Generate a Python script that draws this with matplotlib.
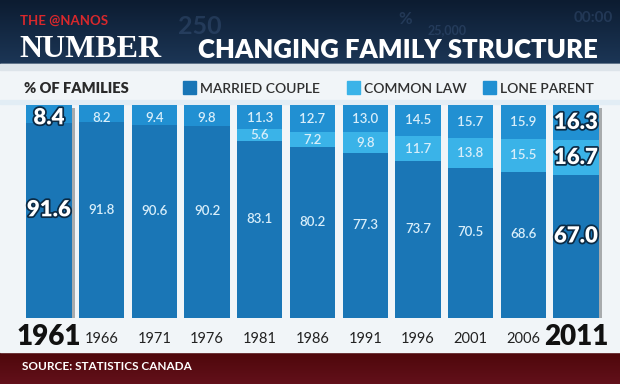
import numpy as np
import matplotlib.pyplot as plt
import matplotlib.patheffects as pe
from matplotlib.colors import LinearSegmentedColormap
from matplotlib.transforms import blended_transform_factory

# Data
years = ['1961', '1966', '1971', '1976', '1981', '1986', '1991', '1996', '2001', '2006', '2011']
married = [91.6, 91.8, 90.6, 90.2, 83.1, 80.2, 77.3, 73.7, 70.5, 68.6, 67.0]
common_law = [0, 0, 0, 0, 5.6, 7.2, 9.8, 11.7, 13.8, 15.5, 16.7]
lone_parent = [8.4, 8.2, 9.4, 9.8, 11.3, 12.7, 13.0, 14.5, 15.7, 15.9, 16.3]
series_names = ['MARRIED COUPLE', 'COMMON LAW', 'LONE PARENT']

c_married = '#1a76b6'
c_common = '#3ab3e8'
c_lone = '#2190d2'

plt.rcParams['font.family'] = ['Lato', 'DejaVu Sans']

W, H = 620, 384
fig = plt.figure(figsize=(W / 100, H / 100), dpi=100)

def fy(px):
    return 1 - px / H

# background: header, white body, footer
bg = fig.add_axes([0, 0, 1, 1])
bg.set_xlim(0, W)
bg.set_ylim(H, 0)
bg.axis('off')
grad = np.linspace(0, 1, 64)[:, None] * np.ones((1, 2))
bg.imshow(grad, extent=[0, W, 64, 0], aspect='auto',
          cmap=LinearSegmentedColormap.from_list('h', ['#0c1c31', '#1c3656']))
bg.add_patch(plt.Rectangle((0, 64), W, 288, color='#f1f5f8'))
bg.add_patch(plt.Rectangle((0, 64), W, 6, color='#dde4ea'))
bg.add_patch(plt.Rectangle((0, 100), W, 4, color='#e2edf5'))
fgrad = np.linspace(0, 1, 32)[:, None] * np.ones((1, 2))
bg.imshow(fgrad, extent=[0, W, 384, 352], aspect='auto',
          cmap=LinearSegmentedColormap.from_list('f', ['#4e070b', '#62101a']))
for tx, x, y, s in [('250', 178, 34, 18), ('%', 398, 24, 12), ('25,000', 428, 34, 9),
                    ('00:00', 574, 22, 11)]:
    bg.text(x, y, tx, color='#5b7bab', alpha=0.25, fontsize=s, weight='bold')
bg.text(20, 25, 'THE @NANOS', color='#d8282c', fontsize=9.5, weight='bold')
bg.text(19, 57, 'NUMBER', color='white', fontsize=23, weight='bold', family='Liberation Serif')
bg.text(198, 58, 'CHANGING FAMILY STRUCTURE', color='white', fontsize=18.5, weight='heavy')
bg.text(24, 93, '% OF FAMILIES', color='#2a2a2a', fontsize=10.5, weight='heavy')
for name, col, x in zip(series_names, [c_married, c_common, c_lone], [183, 347, 483]):
    bg.add_patch(plt.Rectangle((x, 81), 13, 13, color=col))
    bg.text(x + 17, 93, name, color='#303030', fontsize=10, weight='semibold')
bg.text(22, 366, 'SOURCE: STATISTICS CANADA', color='white', fontsize=8.5, weight='bold', va='center')

# bar axes
ax = fig.add_axes([20 / W, fy(318), 585 / W, (318 - 105) / H])
ax.set_xlim(-0.55, 10.55)
ax.set_ylim(0, 100)
ax.axis('off')
x = np.arange(len(years))
width = 0.86
big = [0, len(years) - 1]

for i in big:
    ax.bar(x[i] + 0.06, 100, width, bottom=-1.5, color='#000000', alpha=0.3, zorder=1)
ax.bar(x, married, width, color=c_married, zorder=2)
ax.bar(x, common_law, width, bottom=married, color=c_common, zorder=2)
bottom2 = np.array(married) + np.array(common_law)
ax.bar(x, lone_parent, width, bottom=bottom2, color=c_lone, zorder=2)

stroke = [pe.withStroke(linewidth=2.5, foreground='#0b2a44')]
for i in range(len(years)):
    if i in big:
        kw = dict(fontsize=16, weight='heavy', color='white', path_effects=stroke)
    else:
        kw = dict(fontsize=9.5, color='#d8eefa', weight='semibold')
    ax.text(x[i], married[i] / 2 + 5, f'{married[i]:.1f}', ha='center', va='center', zorder=3, **kw)
    if common_law[i] > 0:
        ax.text(x[i], married[i] + common_law[i] / 2, f'{common_law[i]:.1f}',
                ha='center', va='center', zorder=3, **kw)
    ax.text(x[i], 100 - max(lone_parent[i] / 2, 6), f'{lone_parent[i]:.1f}',
            ha='center', va='center', zorder=3, **kw)

# year labels
tr = blended_transform_factory(ax.transData, fig.transFigure)
for i, yr in enumerate(years):
    if i in big:
        ax.text(x[i], fy(345), yr, transform=tr, ha='center', va='baseline',
                fontsize=20, weight='heavy', color='#111111')
    else:
        ax.text(x[i], fy(343), yr, transform=tr, ha='center', va='baseline',
                fontsize=10.5, color='#222222')

fig.savefig('out.png', dpi=100)
